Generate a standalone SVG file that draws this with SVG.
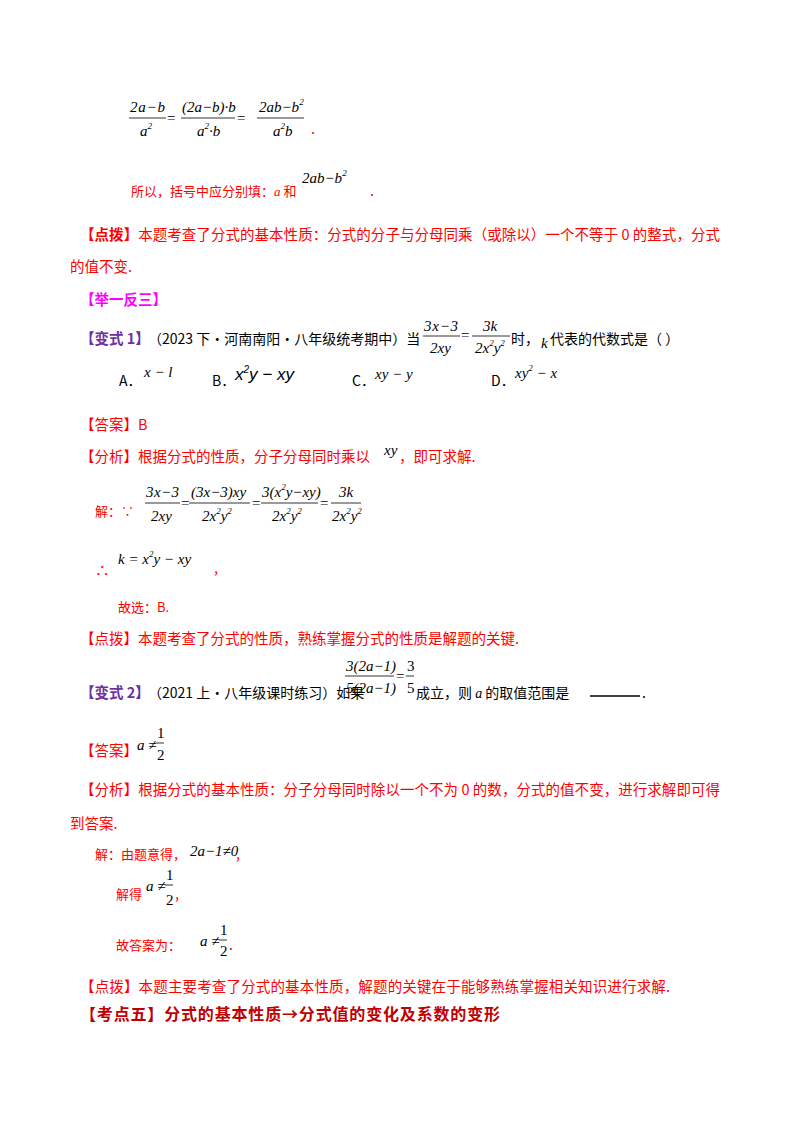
<svg xmlns="http://www.w3.org/2000/svg" width="800" height="1132" viewBox="0 0 800 1132">
<style>
.t{font-family:"Noto Sans CJK SC",sans-serif;font-size:14.5px;fill:#ff0000}
.s{font-family:"Noto Sans CJK SC",sans-serif;font-size:13px;fill:#ff0000}
.k{font-family:"Noto Sans CJK SC",sans-serif;font-size:14px;fill:#000}
.m{font-family:"Liberation Serif",serif;font-size:15px;fill:#000}
.mi{font-family:"Liberation Serif",serif;font-size:15px;font-style:italic;fill:#000}
.sup{font-size:9px}
.bar{stroke:#000;stroke-width:0.8}
.p{font-family:"Noto Sans CJK SC",sans-serif;font-size:14.5px;font-weight:bold;fill:#7030a0}
</style>
<rect width="800" height="1132" fill="#fff"/>
<g id="eq1">
<text class="mi" x="130" y="112" textLength="35">2a−b</text><line class="bar" x1="129" y1="118" x2="166" y2="118"/><text class="mi" x="140" y="136">a<tspan class="sup" dy="-7">2</tspan></text>
<text class="m" x="167" y="123">=</text>
<text class="mi" x="182" y="112">(2a−b)·b</text><line class="bar" x1="181" y1="118" x2="235" y2="118"/><text class="mi" x="197" y="136">a<tspan class="sup" dy="-7">2</tspan><tspan dy="7">·b</tspan></text>
<text class="m" x="237" y="123">=</text>
<text class="mi" x="259" y="112">2ab−b<tspan class="sup" dy="-7">2</tspan></text><line class="bar" x1="257" y1="118" x2="304" y2="118"/><text class="mi" x="273" y="136">a<tspan class="sup" dy="-7">2</tspan><tspan dy="7">b</tspan></text>
<text class="t" x="311" y="134">.</text>
</g>
<g id="l2"><text class="s" x="131" y="196">所以，括号中应分别填：<tspan font-family="Liberation Serif" font-style="italic">a</tspan> 和</text>
<text class="mi" x="302" y="183">2ab−b<tspan class="sup" dy="-7">2</tspan></text><text class="t" x="370" y="196">.</text></g>
<g id="l3"><text class="t" x="80" y="240" textLength="640"><tspan font-weight="bold">【点拨】</tspan>本题考查了分式的基本性质：分式的分子与分母同乘（或除以）一个不等于 0 的整式，分式</text>
<text class="t" x="70" y="272">的值不变.</text></g>
<text x="80" y="305" font-family="Noto Sans CJK SC,sans-serif" font-size="14.5" font-weight="bold" fill="#ff00ff">【举一反三】</text>
<g id="v1">
<text class="p" x="80" y="344">【变式 1】</text><text class="k" x="148" y="344">（2023 下·河南南阳·八年级统考期中）当</text>
<text class="mi" x="424" y="331" textLength="34">3x−3</text><line class="bar" x1="423" y1="336" x2="460" y2="336"/><text class="mi" x="430" y="353">2xy</text>
<text class="m" x="461" y="340">=</text>
<text class="mi" x="483" y="331">3k</text><line class="bar" x1="472" y1="336" x2="510" y2="336"/><text class="mi" x="475" y="353">2x<tspan class="sup" dy="-7">2</tspan><tspan dy="7">y</tspan><tspan class="sup" dy="-7">2</tspan></text>
<text class="k" x="511" y="344">时，</text><text class="mi" x="541" y="348">k</text><text class="k" x="550" y="344">代表的代数式是（     ）</text>
<text class="k" x="119" y="386">A．</text><text class="mi" x="144" y="377">x − l</text>
<text class="k" x="212" y="386">B．</text><text x="235" y="380" font-family="Liberation Sans,sans-serif" font-style="italic" font-size="17">x<tspan font-size="10" dy="-7">2</tspan><tspan dy="7">y − xy</tspan></text>
<text class="k" x="352" y="386">C．</text><text class="mi" x="375" y="379">xy − y</text>
<text class="k" x="491" y="386">D．</text><text class="mi" x="515" y="378">xy<tspan class="sup" dy="-7">2</tspan><tspan dy="7"> − x</tspan></text>
<text class="t" x="80" y="430">【答案】B</text>
<text class="t" x="80" y="462">【分析】根据分式的性质，分子分母同时乘以</text><text class="mi" x="384" y="455">xy</text><text class="t" x="399" y="462">，即可求解.</text>
<text class="s" x="95" y="516">解：∵</text>
<text class="mi" x="146" y="497" textLength="33">3x−3</text><line class="bar" x1="145" y1="503" x2="180" y2="503"/><text class="mi" x="151" y="521">2xy</text>
<text class="m" x="181" y="508">=</text>
<text class="mi" x="191" y="497">(3x−3)xy</text><line class="bar" x1="189" y1="503" x2="250" y2="503"/><text class="mi" x="202" y="521">2x<tspan class="sup" dy="-7">2</tspan><tspan dy="7">y</tspan><tspan class="sup" dy="-7">2</tspan></text>
<text class="m" x="252" y="508">=</text>
<text class="mi" x="262" y="497">3(x<tspan class="sup" dy="-7">2</tspan><tspan dy="7">y−xy)</tspan></text><line class="bar" x1="261" y1="503" x2="318" y2="503"/><text class="mi" x="272" y="521">2x<tspan class="sup" dy="-7">2</tspan><tspan dy="7">y</tspan><tspan class="sup" dy="-7">2</tspan></text>
<text class="m" x="320" y="508">=</text>
<text class="mi" x="339" y="497">3k</text><line class="bar" x1="331" y1="503" x2="361" y2="503"/><text class="mi" x="332" y="521">2x<tspan class="sup" dy="-7">2</tspan><tspan dy="7">y</tspan><tspan class="sup" dy="-7">2</tspan></text>
<text class="t" x="95" y="576">∴</text><text class="mi" x="118" y="564">k = x<tspan class="sup" dy="-7">2</tspan><tspan dy="7">y − xy</tspan></text><text class="t" x="214" y="573">,</text>
<text class="s" x="118" y="612">故选：B.</text>
<text class="t" x="80" y="644">【点拨】本题考查了分式的性质，熟练掌握分式的性质是解题的关键.</text>
</g>
<g id="v2">
<text class="p" x="80" y="698">【变式 2】</text><text class="k" x="148" y="698" font-size="13">（2021 上·八年级课时练习）如果</text>
<text class="mi" x="346" y="671">3(2a−1)</text><line class="bar" x1="345" y1="676" x2="394" y2="676"/><text class="mi" x="346" y="693">5(2a−1)</text>
<text class="m" x="396" y="681">=</text><text class="m" x="407" y="671">3</text><line class="bar" x1="406" y1="676" x2="414" y2="676"/><text class="m" x="407" y="693">5</text>
<text class="k" x="416" y="698">成立，则 <tspan font-family="Liberation Serif" font-style="italic">a</tspan> 的取值范围是</text>
<line x1="590" y1="696" x2="640" y2="696" stroke="#000" stroke-width="1.5"/><text class="k" x="642" y="698">.</text>
<text class="t" x="80" y="756">【答案】</text><text class="mi" x="137" y="750">a ≠</text><text class="m" x="157" y="738">1</text><line class="bar" x1="156" y1="743" x2="164" y2="743"/><text class="m" x="157" y="760">2</text>
<text class="t" x="80" y="795" textLength="640">【分析】根据分式的基本性质：分子分母同时除以一个不为 0 的数，分式的值不变，进行求解即可得</text>
<text class="t" x="70" y="829">到答案.</text>
<text class="s" x="95" y="859">解：由题意得，</text><text class="mi" x="190" y="856">2a−1≠0</text><text class="t" x="236" y="859">,</text>
<text class="s" x="116" y="899">解得</text><text class="mi" x="146" y="891">a ≠</text><text class="m" x="166" y="880">1</text><line class="bar" x1="165" y1="885" x2="173" y2="885"/><text class="m" x="166" y="905">2</text><text class="t" x="175" y="899">,</text>
<text class="s" x="116" y="950">故答案为：</text><text class="mi" x="200" y="946">a ≠</text><text class="m" x="220" y="935">1</text><line class="bar" x1="219" y1="940" x2="227" y2="940"/><text class="m" x="220" y="956">2</text><text class="t" x="229" y="950">.</text>
<text class="t" x="80" y="992" textLength="590">【点拨】本题主要考查了分式的基本性质，解题的关键在于能够熟练掌握相关知识进行求解.</text>
</g>
<text x="80" y="1020" font-family="Noto Sans CJK SC,sans-serif" font-size="16" font-weight="bold" fill="#c00000" textLength="420">【考点五】分式的基本性质→分式值的变化及系数的变形</text>
</svg>
